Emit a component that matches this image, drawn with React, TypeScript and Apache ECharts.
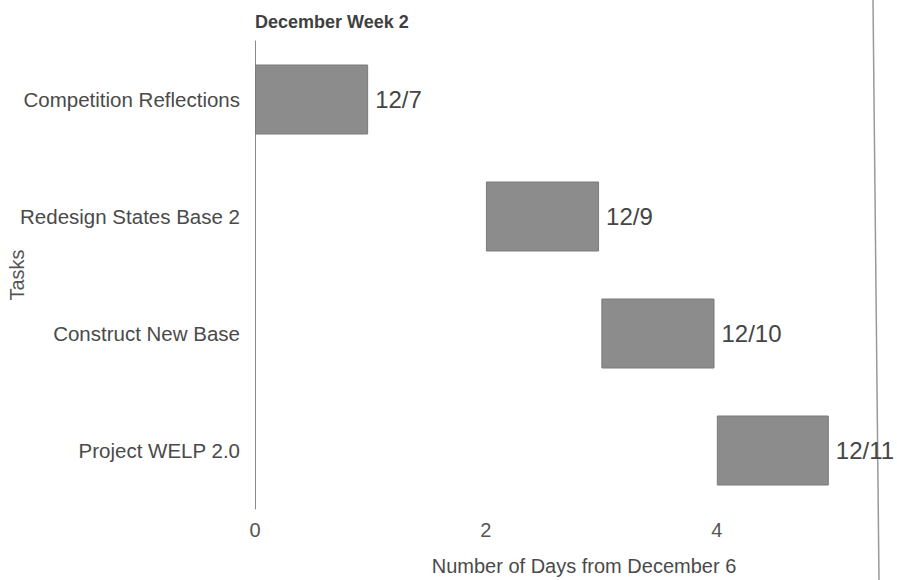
import React, { useEffect, useRef } from "react";
import * as echarts from "echarts";

const tasks = ["Competition Reflections", "Redesign States Base 2", "Construct New Base", "Project WELP 2.0"];
const startDays = [0, 2, 3, 4];
const durations = [0.98, 0.98, 0.98, 0.97];
const dateLabels = ["12/7", "12/9", "12/10", "12/11"];

const FONT = "'Liberation Sans', Arial, sans-serif";

export default function App() {
  const ref = useRef<HTMLDivElement>(null);
  useEffect(() => {
    if (!ref.current) return;
    const chart = echarts.init(ref.current, undefined, { renderer: "svg" });
    chart.setOption({
      animation: false,
      backgroundColor: "#ffffff",
      title: {
        text: "December Week 2",
        left: 250,
        top: 8,
        textStyle: { fontFamily: FONT, fontSize: 18, fontWeight: "bold", color: "#3f3f3f" },
      },
      grid: { left: 255, right: 7, top: 41, bottom: 71, containLabel: false, outerBoundsMode: "none" },
      xAxis: {
        type: "value",
        min: 0,
        max: 5.5,
        interval: 2,
        name: "Number of Days from December 6",
        nameLocation: "middle",
        nameGap: 47,
        nameMoveOverlap: false,
        nameTextStyle: { fontFamily: FONT, fontSize: 20, color: "#4a4a4a", padding: [0, 0, 0, 23] },
        axisLine: { show: false },
        axisTick: { show: false },
        splitLine: { show: false },
        axisLabel: { fontFamily: FONT, fontSize: 20, color: "#555", margin: 11, showMaxLabel: false },
      },
      yAxis: {
        type: "category",
        data: tasks,
        inverse: true,
        name: "Tasks",
        nameLocation: "middle",
        nameGap: 228,
        nameRotate: 90,
        nameMoveOverlap: false,
        nameTextStyle: { fontFamily: FONT, fontSize: 20, color: "#555" },
        axisLine: { show: true, lineStyle: { color: "#8a8a8a", width: 1 } },
        axisTick: { show: false },
        axisLabel: { fontFamily: FONT, fontSize: 20.5, color: "#4a4a4a", margin: 15 },
      },
      series: [
        {
          type: "bar",
          stack: "gantt",
          data: startDays,
          barWidth: 70,
          itemStyle: { color: "transparent" },
          silent: true,
        },
        {
          type: "bar",
          stack: "gantt",
          data: durations,
          barWidth: 70,
          itemStyle: { color: "#8c8c8c", borderColor: "#7a7a7a", borderWidth: 1 },
          label: {
            show: true,
            position: "right",
            distance: 7,
            fontFamily: FONT,
            fontSize: 24,
            color: "#454545",
            formatter: (p: any) => dateLabels[p.dataIndex],
          },
        },
      ],
      graphic: [
        {
          type: "line",
          shape: { x1: 873, y1: 0, x2: 879, y2: 580 },
          style: { stroke: "#9a9a9a", lineWidth: 1.5 },
        },
      ],
    });
    return () => chart.dispose();
  }, []);
  return <div ref={ref} style={{ width: 897, height: 580, position: "absolute", left: 0, top: 0 }} />;
}
